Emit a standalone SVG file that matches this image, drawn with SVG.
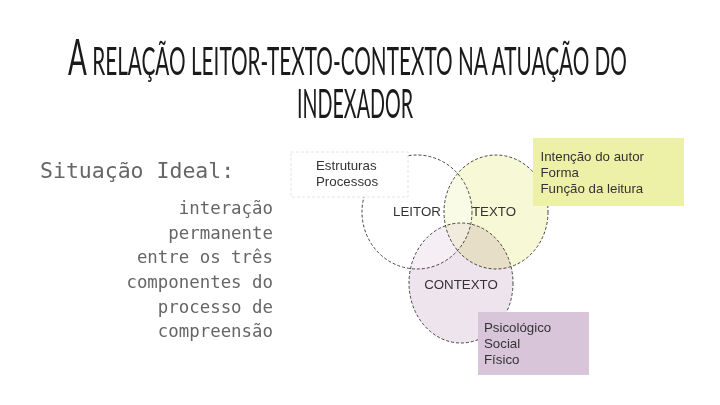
<svg xmlns="http://www.w3.org/2000/svg" width="720" height="405" viewBox="0 0 720 405">
<style>
.title{font-family:Lato,"Open Sans","Liberation Sans",sans-serif;font-weight:400;text-transform:uppercase;fill:#1a1a1a;}
.mono{font-family:"DejaVu Sans Mono","Liberation Mono",monospace;fill:#666;}
.lbl{font-family:"Liberation Sans",Arial,sans-serif;font-size:13.3px;fill:#333;}
.ring{stroke:#333;stroke-width:0.9;stroke-dasharray:3 2;}
</style>
<rect width="720" height="405" fill="#fff"/>
<g id="title">
<text class="title" x="68" y="75" font-size="38" textLength="559" lengthAdjust="spacingAndGlyphs"><tspan font-size="51">A</tspan> relação leitor-texto-contexto na atuação do</text>
<text class="title" x="297" y="118" font-size="40" textLength="116" lengthAdjust="spacingAndGlyphs">indexador</text>
</g>
<g id="left-text">
<text class="mono" x="40" y="178" font-size="21.5">Situação Ideal:</text>
<g text-anchor="end">
<text class="mono" x="273" y="214" font-size="17.4">interação</text>
<text class="mono" x="273" y="239" font-size="17.4">permanente</text>
<text class="mono" x="273" y="263" font-size="17.4">entre os três</text>
<text class="mono" x="273" y="288" font-size="17.4">componentes do</text>
<text class="mono" x="273" y="313" font-size="17.4">processo de</text>
<text class="mono" x="273" y="337" font-size="17.4">compreensão</text>
</g>
</g>
<g id="circles">
<g style="isolation:isolate">
<ellipse id="texto-fill" cx="496" cy="212" rx="52" ry="57" fill="#f7f9d6" style="mix-blend-mode:multiply"/>
<ellipse id="contexto-fill" cx="461" cy="283" rx="52" ry="60" fill="#eee4ee" style="mix-blend-mode:multiply"/>
</g>
<ellipse cx="417" cy="212" rx="55" ry="57" fill="#fff" fill-opacity="0.4"/>
<g id="leitor"><ellipse class="ring" cx="417" cy="212" rx="55" ry="57" fill="none"/><text class="lbl" x="417" y="216" text-anchor="middle">LEITOR</text></g>
<g id="texto"><ellipse class="ring" cx="496" cy="212" rx="52" ry="57" fill="none"/><text class="lbl" x="494" y="216" text-anchor="middle">TEXTO</text></g>
<g id="contexto"><ellipse class="ring" cx="461" cy="283" rx="52" ry="60" fill="none"/><text class="lbl" x="461" y="289" text-anchor="middle">CONTEXTO</text></g>
</g>
<g id="box-leitor">
<rect x="291" y="152" width="117" height="45" fill="#fff" stroke="#ddd" stroke-width="0.8" stroke-dasharray="3 2"/>
<text class="lbl" x="316" y="170">Estruturas</text>
<text class="lbl" x="316" y="186">Processos</text>
</g>
<g id="box-texto">
<rect x="533" y="138" width="151" height="68" fill="#edf1a8"/>
<text class="lbl" x="540.5" y="161">Intenção do autor</text>
<text class="lbl" x="540.5" y="177">Forma</text>
<text class="lbl" x="540.5" y="193">Função da leitura</text>
</g>
<g id="box-contexto">
<rect x="478" y="312" width="111" height="63" fill="#d9c5da"/>
<text class="lbl" x="484" y="332">Psicológico</text>
<text class="lbl" x="484" y="348">Social</text>
<text class="lbl" x="484" y="364">Físico</text>
</g>
</svg>
